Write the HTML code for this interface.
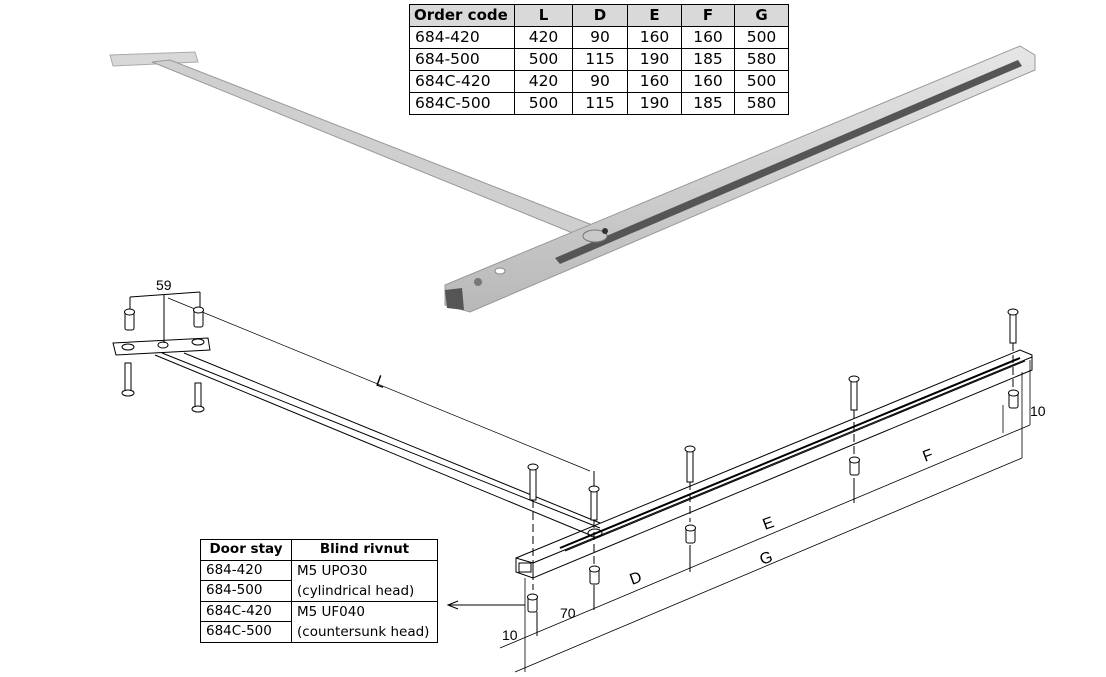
<!DOCTYPE html>
<html><head><meta charset="utf-8"><style>
html,body{margin:0;padding:0;background:#fff;}
body{width:1106px;height:677px;position:relative;overflow:hidden;font-family:"DejaVu Sans","Liberation Sans",sans-serif;}
table{border-collapse:collapse;position:absolute;table-layout:fixed;}
td,th{border:1.5px solid #000;padding:0 5px;overflow:hidden;white-space:nowrap;}
#t1{left:409px;top:4px;width:379px;font-size:15.5px;}
#t1 td,#t1 th{height:21px;line-height:21px;}
#t1 th{background:#d9d9d9;font-weight:bold;font-size:15px;}
#t1 td{text-align:center;}
#t1 td:first-child{text-align:left;}
#t2{left:200px;top:539px;width:237px;font-size:13.5px;}
#t2 th{font-weight:bold;}
#t2 td,#t2 th{height:19.5px;line-height:19.5px;}
svg{position:absolute;left:0;top:0;}
</style></head><body>
<svg width="1106" height="677" viewBox="0 0 1106 677">
<defs><linearGradient id="g" x1="0" y1="0" x2="0" y2="1"><stop offset="0" stop-color="#e6e6e6"/><stop offset="1" stop-color="#b8b8b8"/></linearGradient></defs>
<polygon points="110,55 195,52 198,62 113,66" fill="#d8d8d8" stroke="#aaa"/>
<polygon points="152,62 170,60 600,228 590,240" fill="#cfcfcf" stroke="#9a9a9a"/>
<polygon points="445,285 1020,46 1035,55 1035,70 470,312 445,305" fill="url(#g)" stroke="#999"/>
<polygon points="555,258 1018,60 1022,66 560,264" fill="#555"/>
<polygon points="445,290 462,288 464,310 447,308" fill="#555"/>
<ellipse cx="595" cy="236" rx="12" ry="6" fill="#c8c8c8" stroke="#777"/>
<circle cx="605" cy="231" r="3" fill="#333"/>
<ellipse cx="500" cy="271" rx="5" ry="3" fill="#fff" stroke="#888"/>
<circle cx="478" cy="282" r="4" fill="#777"/>
<g fill="none" stroke="#000" stroke-width="1">
<polygon points="113,343 208,338 210,350 116,355"/>
<ellipse cx="128" cy="347" rx="6" ry="3"/><ellipse cx="163" cy="345" rx="5" ry="3"/><ellipse cx="198" cy="342" rx="6" ry="3"/>
<line x1="155" y1="355" x2="590" y2="535"/><line x1="162" y1="353" x2="600" y2="528"/><line x1="184" y1="353" x2="600" y2="523"/>
<polygon points="516,558 1020,350 1032,355 1032,370 533,578 516,572"/>
<line x1="516" y1="558" x2="533" y2="563"/><line x1="533" y1="563" x2="1032" y2="357"/><line x1="533" y1="563" x2="533" y2="578"/>
<line x1="560" y1="548" x2="1020" y2="358" stroke-width="2"/><line x1="565" y1="551" x2="1025" y2="361"/>
<rect x="519" y="563" width="12" height="9"/>
<ellipse cx="595" cy="533" rx="7" ry="4"/>
<line x1="130" y1="297" x2="200" y2="292"/><line x1="130" y1="297" x2="130" y2="322"/><line x1="200" y1="292" x2="200" y2="308"/><line x1="164" y1="295" x2="164" y2="343"/>
<line x1="168" y1="298" x2="590" y2="471" stroke-width="0.7"/><line x1="594" y1="471" x2="594" y2="487"/>
<line x1="500" y1="648" x2="1030" y2="425" stroke-width="0.8"/>
<line x1="515" y1="672" x2="1022" y2="458" stroke-width="0.8"/>
<line x1="1003" y1="433" x2="1003" y2="405" stroke-width="0.8"/><line x1="1030" y1="425" x2="1030" y2="360" stroke-width="0.8"/>
<line x1="1022" y1="458" x2="1022" y2="372" stroke-width="0.8"/>
<line x1="525" y1="672" x2="525" y2="578" stroke-width="0.8"/>
<line x1="537" y1="636" x2="537" y2="612"/><line x1="594" y1="610" x2="594" y2="585"/><line x1="690" y1="572" x2="690" y2="545"/><line x1="854" y1="503" x2="854" y2="478"/>
<line x1="533" y1="500" x2="533" y2="590" stroke-dasharray="8,4"/><line x1="594" y1="520" x2="594" y2="565" stroke-dasharray="8,4"/><line x1="690" y1="482" x2="690" y2="522" stroke-dasharray="8,4"/><line x1="854" y1="410" x2="854" y2="455" stroke-dasharray="8,4"/><line x1="1013" y1="343" x2="1013" y2="388" stroke-dasharray="8,4"/>
<line x1="448" y1="605" x2="525" y2="605"/><polyline points="458,601 448,605 458,609"/>
</g>
<g fill="#fff" stroke="#000" stroke-width="1">
<rect x="125" y="312" width="9" height="18" rx="2"/><ellipse cx="129.5" cy="312" rx="5" ry="3"/>
<rect x="194" y="310" width="9" height="17" rx="2"/><ellipse cx="198.5" cy="310" rx="5" ry="3"/>
<rect x="125" y="363" width="6" height="28"/><ellipse cx="128" cy="393" rx="6" ry="3"/>
<rect x="195" y="383" width="6" height="25"/><ellipse cx="198" cy="409" rx="6" ry="3"/>
<rect x="530" y="468" width="6" height="32"/><ellipse cx="533" cy="467" rx="5" ry="3"/>
<rect x="591" y="490" width="6" height="30"/><ellipse cx="594" cy="489" rx="5" ry="3"/>
<rect x="687" y="450" width="6" height="32"/><ellipse cx="690" cy="449" rx="5" ry="3"/>
<rect x="851" y="380" width="6" height="30"/><ellipse cx="854" cy="379" rx="5" ry="3"/>
<rect x="1010" y="313" width="6" height="30"/><ellipse cx="1013" cy="312" rx="5" ry="3"/>
<rect x="528" y="597" width="9" height="15" rx="2"/><ellipse cx="532.5" cy="597" rx="5" ry="3"/>
<rect x="590" y="569" width="9" height="15" rx="2"/><ellipse cx="594.5" cy="569" rx="5" ry="3"/>
<rect x="686" y="528" width="9" height="15" rx="2"/><ellipse cx="690.5" cy="528" rx="5" ry="3"/>
<rect x="850" y="460" width="9" height="15" rx="2"/><ellipse cx="854.5" cy="460" rx="5" ry="3"/>
<rect x="1009" y="393" width="9" height="15" rx="2"/><ellipse cx="1013.5" cy="393" rx="5" ry="3"/>
</g>
<g font-family="Liberation Sans Narrow,Liberation Sans,sans-serif" font-size="16" fill="#000">
<text x="156" y="290" font-size="14">59</text>
<text x="375" y="385" transform="rotate(20 375 385)">L</text>
<text x="632" y="585" transform="rotate(-20 632 585)">D</text>
<text x="765" y="530" transform="rotate(-20 765 530)">E</text>
<text x="925" y="462" transform="rotate(-20 925 462)">F</text>
<text x="762" y="565" transform="rotate(-20 762 565)">G</text>
<text x="560" y="618" font-size="14">70</text>
<text x="502" y="640" font-size="14">10</text>
<text x="1030" y="416" font-size="14">10</text>
</g>
</svg>
<table id="t1">
<colgroup><col style="width:105px"><col style="width:58px"><col style="width:55px"><col style="width:54px"><col style="width:53px"><col style="width:54px"></colgroup>
<tr><th style="text-align:left;padding-left:4px">Order code</th><th>L</th><th>D</th><th>E</th><th>F</th><th>G</th></tr>
<tr><td>684-420</td><td>420</td><td>90</td><td>160</td><td>160</td><td>500</td></tr>
<tr><td>684-500</td><td>500</td><td>115</td><td>190</td><td>185</td><td>580</td></tr>
<tr><td>684C-420</td><td>420</td><td>90</td><td>160</td><td>160</td><td>500</td></tr>
<tr><td>684C-500</td><td>500</td><td>115</td><td>190</td><td>185</td><td>580</td></tr>
</table>
<table id="t2">
<colgroup><col style="width:91px"><col style="width:146px"></colgroup>
<tr><th>Door stay</th><th>Blind rivnut</th></tr>
<tr><td>684-420</td><td rowspan="2" style="line-height:20px">M5 UPO30<br>(cylindrical head)</td></tr>
<tr><td>684-500</td></tr>
<tr><td>684C-420</td><td rowspan="2" style="line-height:20px">M5 UF040<br>(countersunk head)</td></tr>
<tr><td>684C-500</td></tr>
</table>
</body></html>
